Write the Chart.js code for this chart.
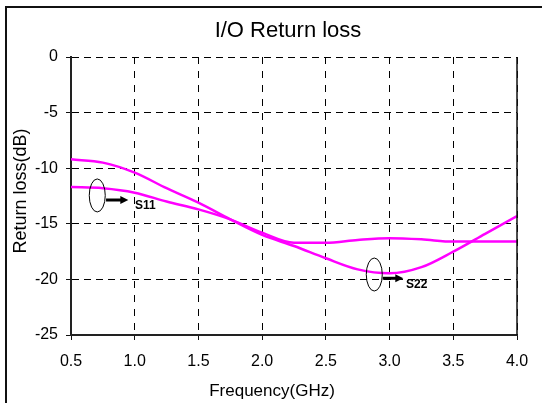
<!DOCTYPE html>
<html>
<head>
<meta charset="utf-8">
<title>I/O Return loss</title>
<script src="https://cdn.jsdelivr.net/npm/chart.js@4.4.0/dist/chart.umd.min.js"></script>
<style>
  html, body { margin: 0; padding: 0; background: #fff; }
  #wrap { position: relative; width: 542px; height: 403px; }
</style>
</head>
<body>
<div id="wrap"><canvas id="canvas1" width="542" height="403"></canvas></div>
<script>
// frequency (GHz) and return loss (dB)
var freq = [0.5, 0.75, 1.0, 1.25, 1.5, 1.75, 2.0, 2.25, 2.5, 2.75, 3.0, 3.25, 3.5, 3.75, 4.0];
var s22 = [-9.2, -9.5, -10.4, -11.8, -13.1, -14.6, -16.0, -17.0, -18.1, -19.1, -19.45, -18.9, -17.5, -15.9, -14.3];
var s11 = [-11.7, -11.8, -12.2, -13.0, -13.7, -14.6, -15.8, -16.7, -16.7, -16.45, -16.3, -16.4, -16.6, -16.6, -16.6];
var xTicks = [0.5, 1.0, 1.5, 2.0, 2.5, 3.0, 3.5, 4.0];
var yTicks = [0, -5, -10, -15, -20, -25];

// ellipse markers with their arrows and names (data coords)
var markers = [
  { name: "S11", cx: 0.706, cy: -12.45, x1: 0.775, x2: 0.95, ay: -12.86, lx: 1.002, ly: -13.4 },
  { name: "S22", cx: 2.88, cy: -19.56, x1: 2.946, x2: 3.108, ay: -19.9, lx: 3.129, ly: -20.5 }
];

var FONT = "'Liberation Sans', Arial, sans-serif";

function points(ys) {
  return freq.map(function (f, i) { return { x: f, y: ys[i] }; });
}

var framePlugin = {
  id: "frame",
  beforeDraw: function (chart) {
    var ctx = chart.ctx;
    ctx.save();
    ctx.fillStyle = "#fff";
    ctx.fillRect(0, 0, chart.width, chart.height);
    ctx.strokeStyle = "#111";
    ctx.lineWidth = 2;
    ctx.beginPath();
    ctx.moveTo(6, chart.height);
    ctx.lineTo(6, 7);
    ctx.lineTo(chart.width, 7);
    ctx.stroke();
    ctx.restore();
  },
  afterDraw: function (chart) {
    var ctx = chart.ctx, a = chart.chartArea;
    ctx.save();
    // solid right edge of the plot
    ctx.strokeStyle = "#111";
    ctx.lineWidth = 1.5;
    ctx.beginPath();
    ctx.moveTo(a.right, a.top);
    ctx.lineTo(a.right, a.bottom);
    ctx.stroke();

    ctx.fillStyle = "#000";
    ctx.textAlign = "center";
    ctx.textBaseline = "alphabetic";
    ctx.font = "22px " + FONT;
    ctx.fillText("I/O Return loss", 288, 36.5);
    ctx.font = "17px " + FONT;
    ctx.fillText("Frequency(GHz)", 272, 396);
    ctx.translate(21, 191);
    ctx.rotate(-Math.PI / 2);
    ctx.textBaseline = "middle";
    ctx.font = "18px " + FONT;
    ctx.fillText("Return loss(dB)", 0, 0);
    ctx.restore();
  },
  afterDatasetsDraw: function (chart) {
    var ctx = chart.ctx, xs = chart.scales.x, ys = chart.scales.y;
    ctx.save();
    markers.forEach(function (m) {
      var cx = xs.getPixelForValue(m.cx), cy = ys.getPixelForValue(m.cy);
      ctx.strokeStyle = "#000";
      ctx.lineWidth = 1;
      ctx.beginPath();
      ctx.ellipse(cx, cy, 8, 16.5, 0, 0, Math.PI * 2);
      ctx.stroke();

      var x1 = xs.getPixelForValue(m.x1), x2 = xs.getPixelForValue(m.x2), ay = ys.getPixelForValue(m.ay);
      ctx.lineWidth = 3;
      ctx.beginPath();
      ctx.moveTo(x1, ay);
      ctx.lineTo(x2 - 6, ay);
      ctx.stroke();
      ctx.fillStyle = "#000";
      ctx.beginPath();
      ctx.moveTo(x2, ay);
      ctx.lineTo(x2 - 8, ay - 4);
      ctx.lineTo(x2 - 8, ay + 4);
      ctx.closePath();
      ctx.fill();

      ctx.font = "bold 12px " + FONT;
      ctx.textAlign = "left";
      ctx.textBaseline = "middle";
      ctx.fillText(m.name, xs.getPixelForValue(m.lx), ys.getPixelForValue(m.ly));
    });
    ctx.restore();
  }
};

new Chart(document.getElementById("canvas1"), {
  type: "line",
  data: {
    datasets: [
      { label: "S22", data: points(s22), borderColor: "#ff00ff", borderWidth: 2.5, pointRadius: 0, cubicInterpolationMode: "monotone", fill: false },
      { label: "S11", data: points(s11), borderColor: "#ff00ff", borderWidth: 2.5, pointRadius: 0, cubicInterpolationMode: "monotone", fill: false }
    ]
  },
  options: {
    responsive: false,
    animation: false,
    layout: { padding: { left: 0, right: 25, top: 57, bottom: 0 } },
    plugins: {
      legend: { display: false },
      title: { display: false },
      tooltip: { enabled: false }
    },
    scales: {
      x: {
        type: "linear",
        min: 0.5,
        max: 4.0,
        afterBuildTicks: function (axis) { axis.ticks = xTicks.map(function (v) { return { value: v }; }); },
        afterFit: function (axis) { axis.height = 68; },
        ticks: {
          color: "#000",
          font: { family: FONT, size: 16 },
          padding: 12,
          maxRotation: 0,
          callback: function (v) { return Number(v).toFixed(1); }
        },
        grid: { color: "#000", lineWidth: 1, tickLength: 5, tickBorderDash: [], tickColor: "#111" },
        border: { display: true, color: "#222", width: 2, dash: [7, 7] }
      },
      y: {
        min: -25,
        max: 0,
        afterBuildTicks: function (axis) { axis.ticks = yTicks.map(function (v) { return { value: v }; }); },
        afterFit: function (axis) { axis.width = 71; },
        ticks: { color: "#000", font: { family: FONT, size: 16 }, padding: 8 },
        grid: { color: "#000", lineWidth: 1, tickLength: 5, tickBorderDash: [], tickColor: "#111" },
        border: { display: true, color: "#222", width: 2, dash: [7, 5] }
      }
    }
  },
  plugins: [framePlugin]
});
</script>
</body>
</html>
